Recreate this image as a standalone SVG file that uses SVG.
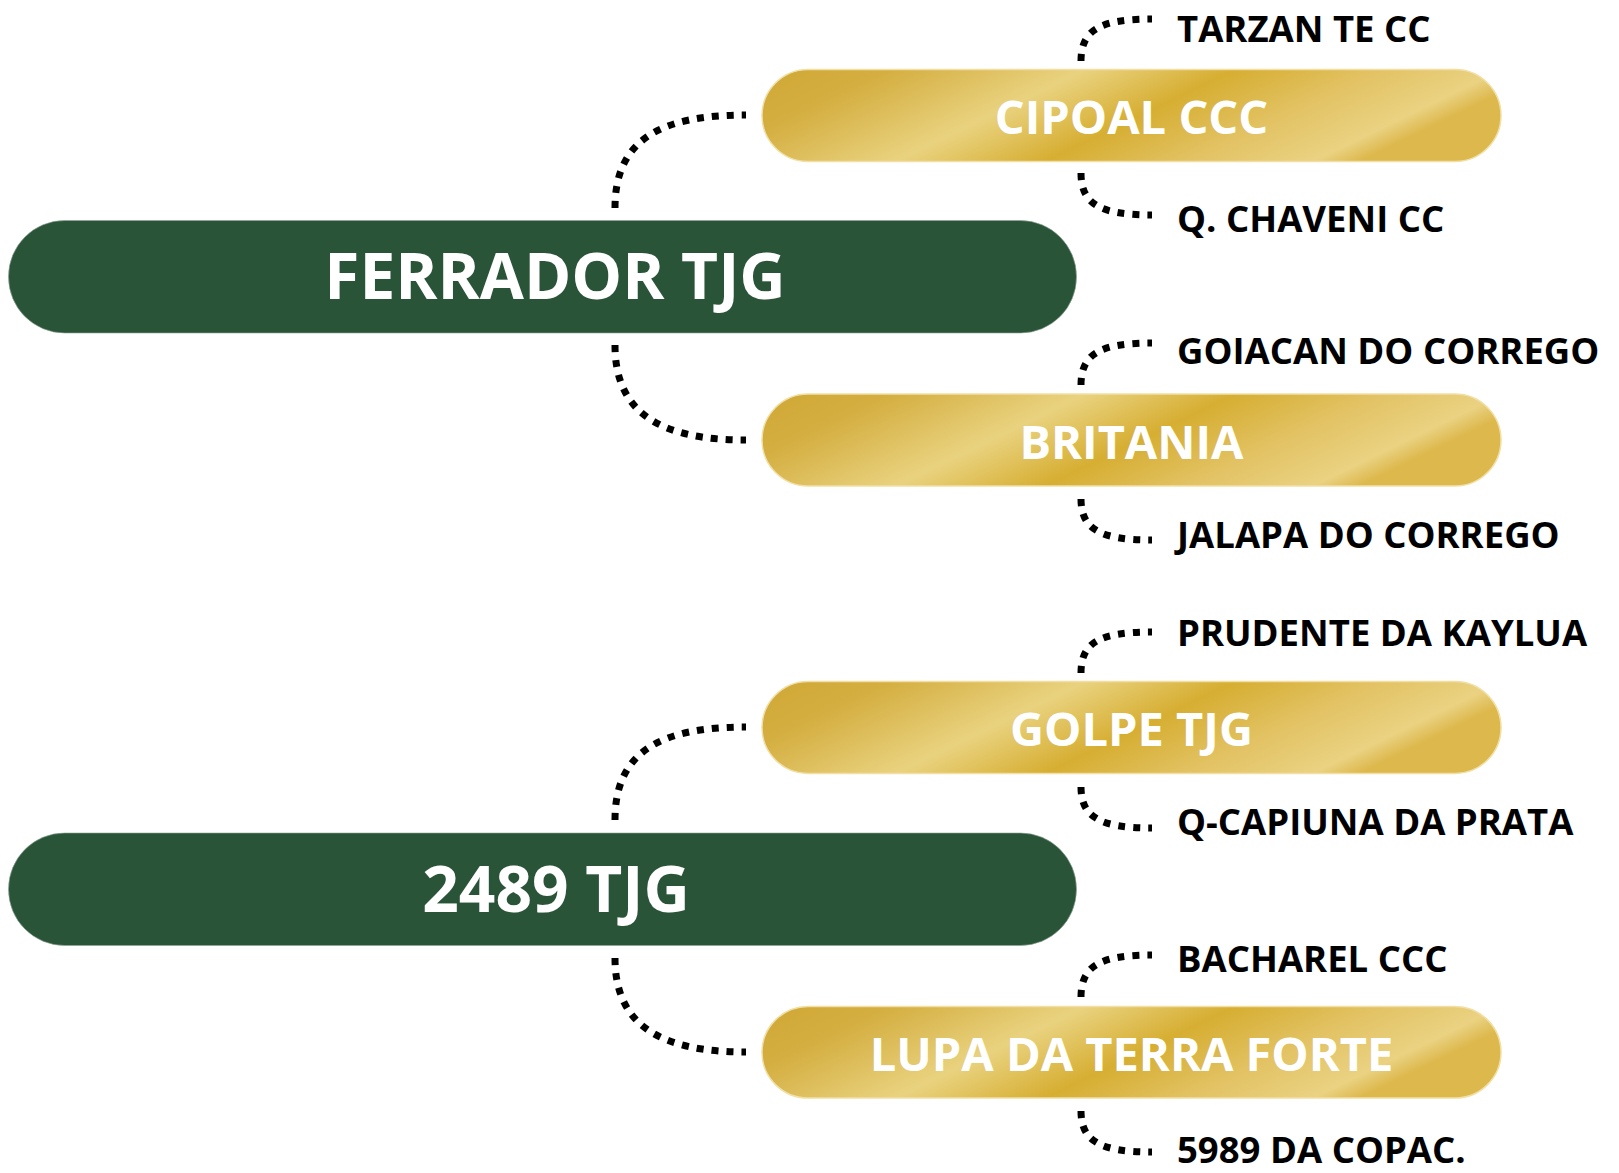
<svg xmlns="http://www.w3.org/2000/svg" width="1619" height="1173" viewBox="0 0 1619 1173">
  <defs>
    <linearGradient id="gold" x1="0" y1="0" x2="1" y2="0.257">
      <stop offset="0" stop-color="#CFA836"/>
      <stop offset="0.16" stop-color="#D4AE40"/>
      <stop offset="0.41" stop-color="#E9D27F"/>
      <stop offset="0.60" stop-color="#D6AE32"/>
      <stop offset="0.78" stop-color="#E2C263"/>
      <stop offset="0.94" stop-color="#EAD282"/>
      <stop offset="1" stop-color="#DDB84C"/>
    </linearGradient>
    <style>
      .root rect { fill: #2A5438; stroke: #8FA596; stroke-width: 1; stroke-opacity: 0.6; }
      .root text { font-family: "Open Sans", "Liberation Sans", sans-serif; font-weight: 700; font-size: 64px; fill: #FFFFFF; text-anchor: middle; }
      .mid rect { fill: url(#gold); stroke: #F1DFA6; stroke-width: 1.5; }
      .mid text { font-family: "Open Sans", "Liberation Sans", sans-serif; font-weight: 700; font-size: 47px; fill: #FFFFFF; text-anchor: middle; }
      .leaf text { font-family: "Open Sans", "Liberation Sans", sans-serif; font-weight: 700; font-size: 36.5px; fill: #000000; }
      .conn path { fill: none; stroke: #000000; stroke-width: 7; stroke-dasharray: 7 8; }
    </style>
  </defs>

  <g id="connectors" class="conn">
    <path d="M615,208 C615,140 660,115 746,115"/>
    <path d="M615,345 C615,413 660,440 746,440"/>
    <path d="M615,820 C615,752 660,727 746,727"/>
    <path d="M615,958 C615,1025 660,1052 746,1052"/>

    <path d="M1081,61 C1081,30 1100,19 1152,19"/>
    <path d="M1081,173 C1081,204 1100,215 1152,215"/>
    <path d="M1081,385 C1081,354 1100,343 1152,343"/>
    <path d="M1081,499 C1081,529 1100,540 1152,540"/>
    <path d="M1081,673 C1081,642 1100,632 1152,632"/>
    <path d="M1081,787 C1081,817 1100,828 1152,828"/>
    <path d="M1081,997 C1081,966 1100,955 1152,955"/>
    <path d="M1081,1111 C1081,1141 1100,1152 1152,1152"/>
  </g>

  <g id="node-ferrador" class="root">
    <rect x="8.5" y="220.5" width="1068" height="112.5" rx="56" ry="56"/>
    <text x="555" y="299">FERRADOR TJG</text>
  </g>
  <g id="node-2489" class="root">
    <rect x="8.5" y="833" width="1068" height="112.5" rx="56" ry="56"/>
    <text x="556" y="911.5">2489 TJG</text>
  </g>

  <g id="node-cipoal" class="mid">
    <rect x="762" y="69.5" width="739" height="92" rx="46" ry="46"/>
    <text x="1131.5" y="134">CIPOAL CCC</text>
  </g>
  <g id="node-britania" class="mid">
    <rect x="762" y="394" width="739" height="92" rx="46" ry="46"/>
    <text x="1131.5" y="458.5">BRITANIA</text>
  </g>
  <g id="node-golpe" class="mid">
    <rect x="762" y="681.5" width="739" height="92" rx="46" ry="46"/>
    <text x="1131.5" y="745.5">GOLPE TJG</text>
  </g>
  <g id="node-lupa" class="mid">
    <rect x="762" y="1006.5" width="739" height="91.5" rx="46" ry="46"/>
    <text x="1131.5" y="1071">LUPA DA TERRA FORTE</text>
  </g>

  <g id="node-tarzan" class="leaf"><text x="1177" y="41.7">TARZAN TE CC</text></g>
  <g id="node-chaveni" class="leaf"><text x="1177" y="232.3">Q. CHAVENI CC</text></g>
  <g id="node-goiacan" class="leaf"><text x="1177" y="364">GOIACAN DO CORREGO</text></g>
  <g id="node-jalapa" class="leaf"><text x="1177" y="548.3">JALAPA DO CORREGO</text></g>
  <g id="node-prudente" class="leaf"><text x="1177" y="646">PRUDENTE DA KAYLUA</text></g>
  <g id="node-capiuna" class="leaf"><text x="1177" y="835">Q-CAPIUNA DA PRATA</text></g>
  <g id="node-bacharel" class="leaf"><text x="1177" y="971.7">BACHAREL CCC</text></g>
  <g id="node-5989" class="leaf"><text x="1177" y="1163.3">5989 DA COPAC.</text></g>
</svg>
